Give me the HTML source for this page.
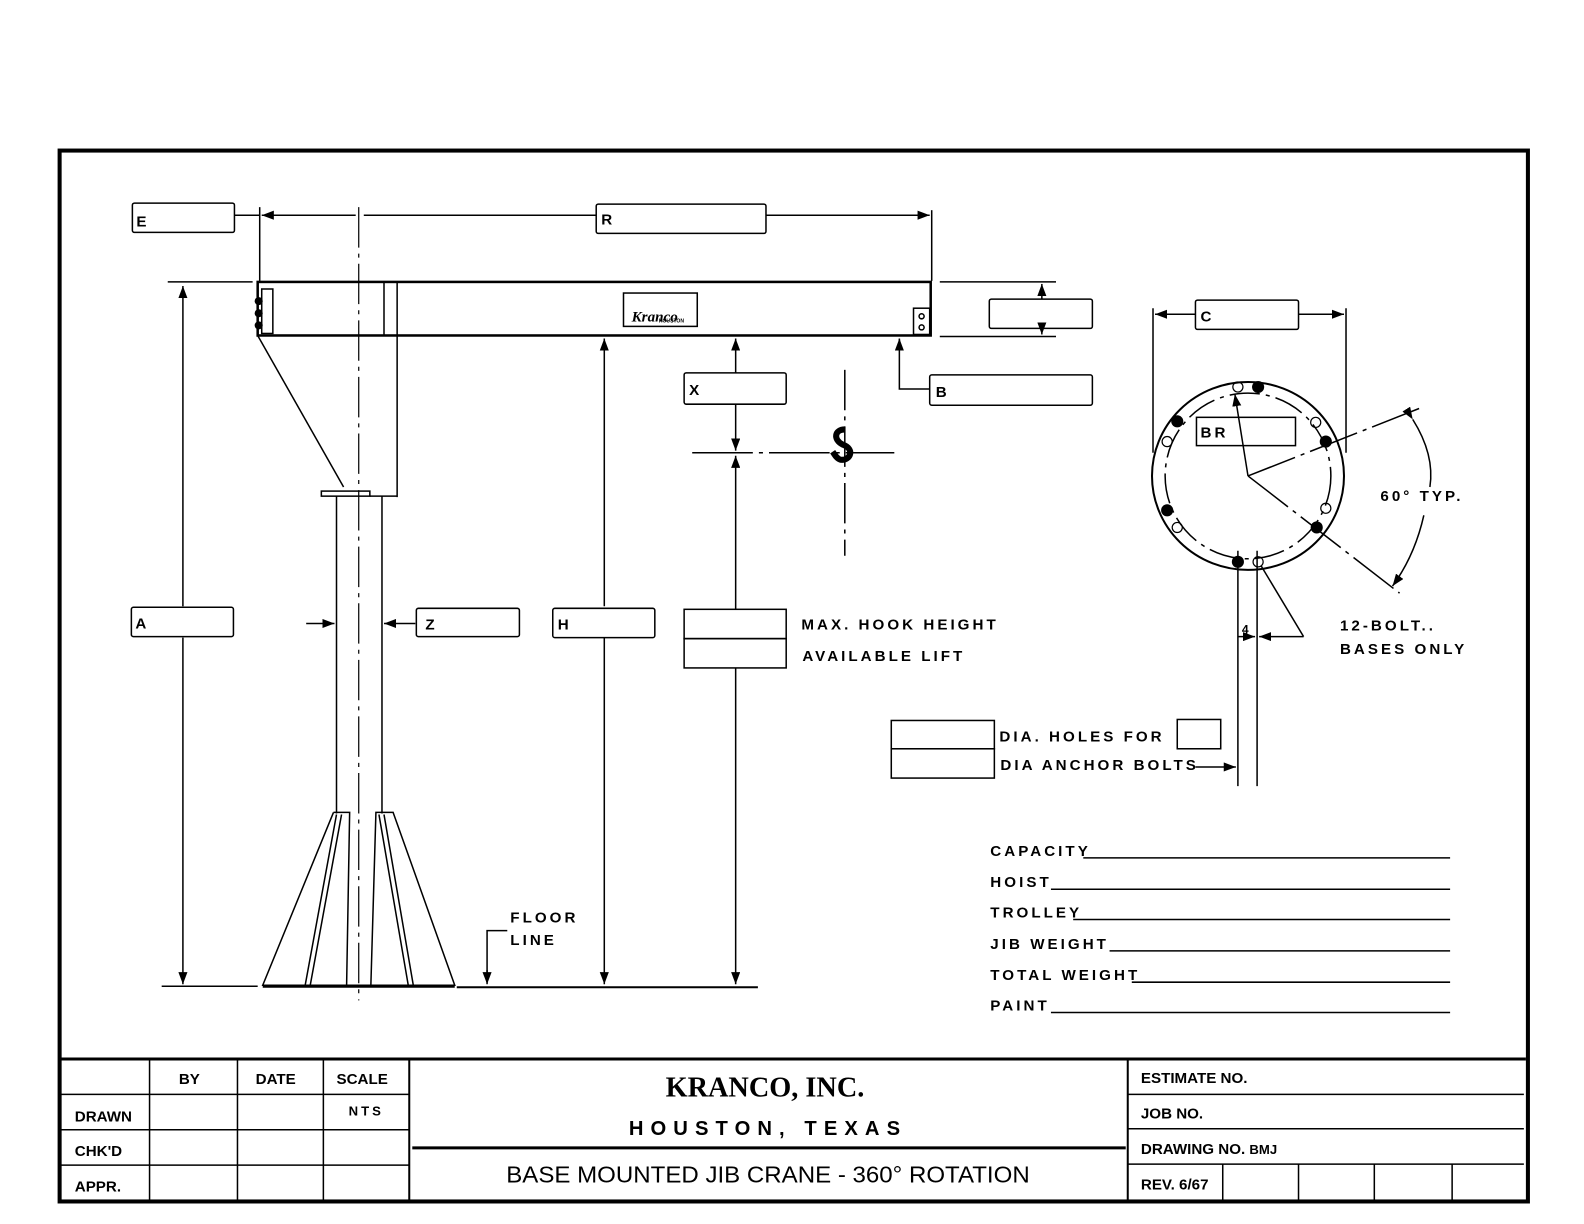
<!DOCTYPE html>
<html><head><meta charset="utf-8"><style>
html,body{margin:0;padding:0;background:#fff}
svg{display:block}
text{font-family:"Liberation Sans",sans-serif;font-weight:bold;fill:#000}
.l{font-size:15px;letter-spacing:3px}
.b{font-size:15px}
</style></head><body>
<svg width="1584" height="1224" viewBox="0 0 1567.5 1211.3" preserveAspectRatio="none" xmlns="http://www.w3.org/2000/svg">
<defs><marker id="a" markerWidth="8" markerHeight="6" refX="8" refY="3" orient="auto"><path d="M0,0 L8,3 L0,6z" fill="#000"/></marker></defs>
<g fill="none" stroke="#000" stroke-width="1.5">
<rect x="59" y="149" width="1453" height="1040" stroke-width="4"/>
<line x1="60" y1="1048" x2="1510" y2="1048" stroke-width="3"/>
<line x1="148" y1="1048" x2="148" y2="1188"/><line x1="235" y1="1048" x2="235" y2="1188"/><line x1="320" y1="1048" x2="320" y2="1188"/>
<line x1="405" y1="1048" x2="405" y2="1188" stroke-width="2"/>
<line x1="1116" y1="1048" x2="1116" y2="1188" stroke-width="2"/>
<line x1="60" y1="1083" x2="405" y2="1083"/><line x1="60" y1="1118" x2="405" y2="1118"/><line x1="60" y1="1153" x2="405" y2="1153"/>
<line x1="408" y1="1136" x2="1114" y2="1136" stroke-width="3"/>
<line x1="1116" y1="1083" x2="1508" y2="1083"/><line x1="1116" y1="1117" x2="1508" y2="1117"/><line x1="1116" y1="1152" x2="1508" y2="1152"/>
<line x1="1210" y1="1152" x2="1210" y2="1188"/><line x1="1285" y1="1152" x2="1285" y2="1188"/><line x1="1360" y1="1152" x2="1360" y2="1188"/><line x1="1437" y1="1152" x2="1437" y2="1188"/>

<rect x="255" y="279" width="666" height="53" stroke-width="2.5"/>
<rect x="259" y="286" width="11" height="44"/>
<line x1="380" y1="279" x2="380" y2="332"/><line x1="393" y1="279" x2="393" y2="492"/>
<rect x="904" y="305" width="16" height="26"/>
<circle cx="912" cy="313" r="2.5"/><circle cx="912" cy="324" r="2.5"/>
<rect x="617" y="290" width="73" height="33"/>
<line x1="255" y1="332" x2="340" y2="482"/>
<rect x="318" y="486" width="48" height="5"/>
<line x1="366" y1="491" x2="393" y2="491"/>
<line x1="333" y1="491" x2="333" y2="805"/><line x1="378" y1="491" x2="378" y2="805"/>
<line x1="355" y1="205" x2="355" y2="990" stroke-dasharray="40,6,4,6" stroke-width="1.2"/>
<path d="M330,804 L260,975 L450,975 L389,804 L372,804 L367,975 M330,804 L346,804 L343,975 M333,806 L302,975 M338,806 L307,975 M375,806 L404,975 M380,806 L409,975"/>
<line x1="260" y1="976" x2="450" y2="976" stroke-width="3"/>
<line x1="160" y1="976" x2="255" y2="976"/>
<line x1="452" y1="977" x2="750" y2="977" stroke-width="2"/>
<path d="M502,921 L482,921 L482,972" /><line x1="482" y1="960" x2="482" y2="974" marker-end="url(#a)"/>
<line x1="166" y1="279" x2="250" y2="279"/>
<line x1="181" y1="600" x2="181" y2="283" marker-end="url(#a)"/><line x1="181" y1="631" x2="181" y2="974" marker-end="url(#a)"/>
<rect x="130" y="601" width="101" height="29" rx="2"/>
<line x1="303" y1="617" x2="331" y2="617" marker-end="url(#a)"/>
<line x1="411" y1="617" x2="380" y2="617" marker-end="url(#a)"/>
<rect x="412" y="602" width="102" height="28" rx="2"/>
<line x1="598" y1="600" x2="598" y2="335" marker-end="url(#a)"/><line x1="598" y1="631" x2="598" y2="974" marker-end="url(#a)"/>
<rect x="547" y="602" width="101" height="29" rx="2"/>
<line x1="728" y1="369" x2="728" y2="335" marker-end="url(#a)"/>
<line x1="728" y1="400" x2="728" y2="446" marker-end="url(#a)"/>
<line x1="728" y1="603" x2="728" y2="451" marker-end="url(#a)"/>
<line x1="728" y1="661" x2="728" y2="974" marker-end="url(#a)"/>
<rect x="677" y="369" width="101" height="31" rx="2"/>
<rect x="677" y="603" width="101" height="29"/><rect x="677" y="632" width="101" height="29"/>
<line x1="685" y1="448" x2="885" y2="448" stroke-dasharray="60,6,4,6"/>
<line x1="836" y1="366" x2="836" y2="550" stroke-dasharray="40,6,4,6"/>
<rect x="131" y="201" width="101" height="29" rx="2"/>
<line x1="232" y1="213" x2="257" y2="213"/>
<line x1="257" y1="205" x2="257" y2="278"/>
<line x1="352" y1="213" x2="259" y2="213" marker-end="url(#a)"/>
<line x1="360" y1="213" x2="590" y2="213"/>
<rect x="590" y="202" width="168" height="29" rx="2"/>
<line x1="758" y1="213" x2="920" y2="213" marker-end="url(#a)"/>
<line x1="922" y1="208" x2="922" y2="278"/>
<line x1="930" y1="279" x2="1045" y2="279"/><line x1="930" y1="333" x2="1045" y2="333"/>
<line x1="1031" y1="296" x2="1031" y2="281" marker-end="url(#a)"/><line x1="1031" y1="325" x2="1031" y2="331" marker-end="url(#a)"/>
<rect x="979" y="296" width="102" height="29" rx="2"/>
<path d="M920,385 L890,385 L890,336"/><line x1="890" y1="345" x2="890" y2="335" marker-end="url(#a)"/>
<rect x="920" y="371" width="161" height="30" rx="2"/>
<line x1="1141" y1="305" x2="1141" y2="448"/><line x1="1332" y1="305" x2="1332" y2="448"/>
<line x1="1183" y1="311" x2="1143" y2="311" marker-end="url(#a)"/><line x1="1285" y1="311" x2="1330" y2="311" marker-end="url(#a)"/>
<rect x="1183" y="297" width="102" height="29" rx="2"/>
<ellipse cx="1235" cy="471" rx="95" ry="93" stroke-width="2"/>
<circle cx="1235" cy="471" r="82" stroke-dasharray="30,6,4,6"/>
<rect x="1184" y="413" width="98" height="28"/>
<line x1="1235" y1="471" x2="1222" y2="390" marker-end="url(#a)"/>
<line x1="1235" y1="471" x2="1405" y2="404" stroke-dasharray="50,6,4,6"/>
<line x1="1235" y1="471" x2="1385" y2="587" stroke-dasharray="50,6,4,6"/>
<path d="M1398,415 Q1420,450 1415,482" marker-start="url(#a)"/>
<path d="M1409,510 Q1400,550 1378,580" marker-end="url(#a)"/>
<line x1="1225" y1="545" x2="1225" y2="778"/><line x1="1244" y1="545" x2="1244" y2="778"/>
<line x1="1183" y1="759" x2="1223" y2="759" marker-end="url(#a)"/>
<line x1="1225" y1="630" x2="1242" y2="630" marker-end="url(#a)"/>
<line x1="1290" y1="630" x2="1246" y2="630" marker-end="url(#a)"/>
<line x1="1290" y1="630" x2="1248" y2="560"/>
<rect x="882" y="713" width="102" height="28"/><rect x="882" y="741" width="102" height="29"/>
<rect x="1165" y="712" width="43" height="29"/>
<line x1="1072" y1="849" x2="1435" y2="849"/><line x1="1040" y1="880" x2="1435" y2="880"/><line x1="1062" y1="910" x2="1435" y2="910"/>
<line x1="1098" y1="941" x2="1435" y2="941"/><line x1="1120" y1="972" x2="1435" y2="972"/><line x1="1040" y1="1002" x2="1435" y2="1002"/>
</g>
<g fill="#000"><circle cx="1245" cy="383" r="6"/><circle cx="1165" cy="417" r="6"/><circle cx="1312" cy="437" r="6"/><circle cx="1155" cy="505" r="6"/><circle cx="1303" cy="522" r="6"/><circle cx="1225" cy="556" r="6"/>
<circle cx="256" cy="298" r="4"/><circle cx="256" cy="310" r="4"/><circle cx="256" cy="322" r="4"/></g>
<g fill="none" stroke="#000" stroke-width="1.2">
<circle cx="1225" cy="383" r="5"/><circle cx="1302" cy="418" r="5"/><circle cx="1155" cy="437" r="5"/><circle cx="1165" cy="522" r="5"/><circle cx="1312" cy="503" r="5"/><circle cx="1245" cy="556" r="5"/>
</g>
<path d="M836,425 C826,425 824,435 834,440 C846,444 842,456 832,455 C828,454 826,450 824,447" fill="none" stroke="#000" stroke-width="6"/>
<text x="135" y="224" class="b">E</text><text x="595" y="222" class="b">R</text>
<text x="682" y="391" class="b">X</text><text x="926" y="393" class="b">B</text>
<text x="1188" y="318" class="b">C</text><text x="1188" y="433" class="l">BR</text>
<text x="134" y="622" class="b">A</text><text x="421" y="623" class="b">Z</text><text x="552" y="623" class="b">H</text>
<text x="625" y="318" style="font-size:15px;font-style:italic;font-family:'Liberation Serif',serif">Kranco</text>
<text x="652" y="319" style="font-size:5px">HOUSTON</text>
<text x="793" y="623" class="l">MAX. HOOK HEIGHT</text>
<text x="794" y="654" class="l">AVAILABLE LIFT</text>
<text x="1366" y="496" class="l">60° TYP.</text>
<text x="1326" y="624" class="l">12-BOLT..</text>
<text x="1326" y="647" class="l">BASES ONLY</text>
<text x="1229" y="627" style="font-size:12px">4</text>
<text x="989" y="734" class="l">DIA. HOLES FOR</text>
<text x="990" y="762" class="l">DIA ANCHOR BOLTS</text>
<text x="505" y="913" class="l">FLOOR</text><text x="505" y="935" class="l">LINE</text>
<text x="980" y="847" class="l">CAPACITY</text><text x="980" y="878" class="l">HOIST</text><text x="980" y="908" class="l">TROLLEY</text>
<text x="980" y="939" class="l">JIB WEIGHT</text><text x="980" y="970" class="l">TOTAL WEIGHT</text><text x="980" y="1000" class="l">PAINT</text>
<text x="177" y="1073" class="b">BY</text><text x="253" y="1073" class="b">DATE</text><text x="333" y="1073" class="b">SCALE</text>
<text x="345" y="1104" style="font-size:13px;letter-spacing:3px">NTS</text>
<text x="74" y="1110" class="b">DRAWN</text><text x="74" y="1144" class="b">CHK'D</text><text x="74" y="1179" class="b">APPR.</text>
<text x="757" y="1085" text-anchor="middle" style="font-family:'Liberation Serif',serif;font-size:28px">KRANCO, INC.</text>
<text x="760" y="1123" text-anchor="middle" style="font-size:20px;letter-spacing:7px">HOUSTON, TEXAS</text>
<text x="760" y="1170" text-anchor="middle" style="font-size:23px;font-weight:normal" textLength="518" lengthAdjust="spacingAndGlyphs">BASE MOUNTED JIB CRANE - 360° ROTATION</text>
<text x="1129" y="1072" class="b">ESTIMATE NO.</text><text x="1129" y="1107" class="b">JOB NO.</text>
<text x="1129" y="1142" class="b">DRAWING NO. <tspan style="font-size:13px">BMJ</tspan></text>
<text x="1129" y="1177" class="b">REV. 6/67</text>
</svg>
</body></html>
